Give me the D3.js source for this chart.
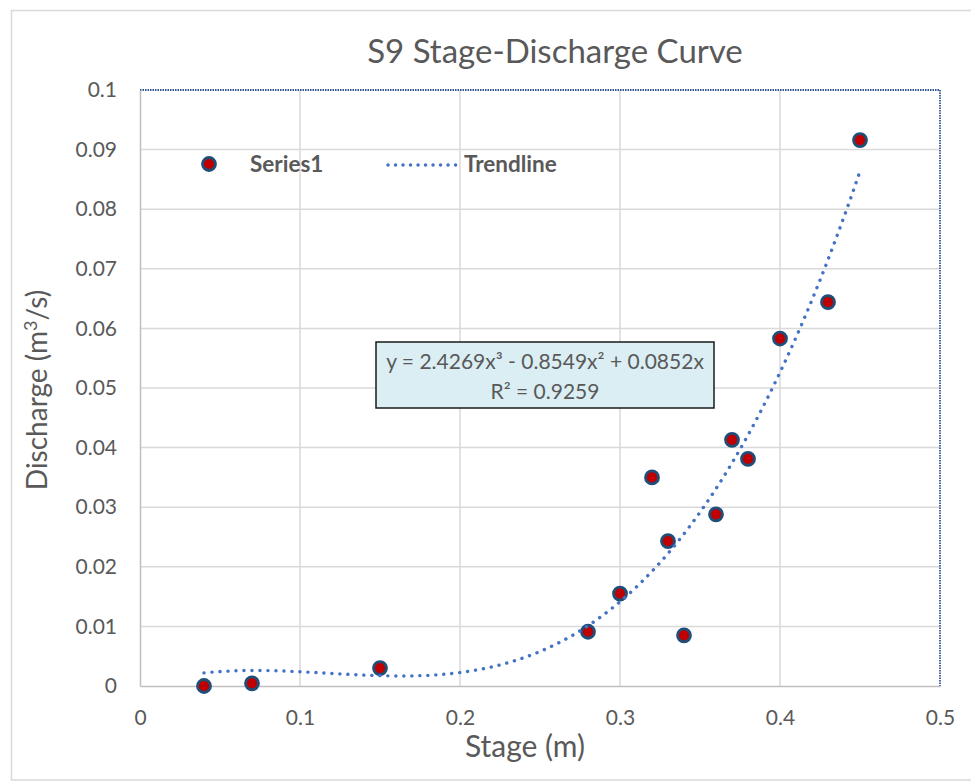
<!DOCTYPE html>
<html>
<head>
<meta charset="utf-8">
<script src="https://cdn.jsdelivr.net/npm/d3@7"></script>
<style>
  html, body { margin: 0; padding: 0; background: #fff; }
  svg { display: block; }
  text { font-family: "Lato", "Open Sans", sans-serif; fill: #595959; }
</style>
</head>
<body>
<svg id="chart" width="971" height="782"></svg>
<script>
// ---- data ----
const stage = [0.04, 0.07, 0.15, 0.28, 0.30, 0.32, 0.33, 0.34, 0.36, 0.37, 0.38, 0.40, 0.43, 0.45];
const discharge = [0.0000, 0.00045, 0.0030, 0.0091, 0.0155, 0.0350, 0.0243, 0.0085, 0.0288, 0.0413, 0.0381, 0.0583, 0.0644, 0.0916];
const trendCoefficients = [2.4269, -0.8549, 0.0852, 0]; // x^3, x^2, x, const (from chart label)
const xTicks = [0, 0.1, 0.2, 0.3, 0.4, 0.5];
const yTicks = [0, 0.01, 0.02, 0.03, 0.04, 0.05, 0.06, 0.07, 0.08, 0.09, 0.1];
const titleText = "S9 Stage-Discharge Curve";
const xTitle = "Stage (m)";
const equationLines = ["y = 2.4269x³ - 0.8549x² + 0.0852x", "R² = 0.9259"];
const legendLabels = ["Series1", "Trendline"];

// ---- layout ----
const svg = d3.select("#chart");
const plot = { left: 140, right: 940, top: 90, bottom: 686 };
const x = d3.scaleLinear().domain([0, 0.5]).range([plot.left, plot.right]);
const y = d3.scaleLinear().domain([0, 0.1]).range([plot.bottom, plot.top]);

const markerFill = "#C00000", markerStroke = "#1F4E79", trendColor = "#4472C4";

// outer chart border
svg.append("rect").attr("x", 11.5).attr("y", 10.5).attr("width", 970).attr("height", 769.5)
  .attr("fill", "#fff").attr("stroke", "#d9d9d9").attr("stroke-width", 1.5);

// title
svg.append("text").attr("x", 555).attr("y", 63).attr("text-anchor", "middle")
  .style("font-size", "33px").text(titleText);

// gridlines
const grid = svg.append("g");
grid.selectAll("line.h").data(yTicks.filter(d => d > 0 && d < 0.1)).join("line")
  .attr("x1", plot.left).attr("x2", plot.right)
  .attr("y1", d => y(d)).attr("y2", d => y(d))
  .attr("stroke", "#d9d9d9").attr("stroke-width", 1.5);
grid.selectAll("line.v").data(xTicks.filter(d => d > 0 && d < 0.5)).join("line")
  .attr("y1", plot.top).attr("y2", plot.bottom)
  .attr("x1", d => x(d)).attr("x2", d => x(d))
  .attr("stroke", "#d9d9d9").attr("stroke-width", 1.5);

// plot area borders: top and right dotted dark blue, left/bottom gray axes
svg.append("line").attr("x1", plot.left).attr("x2", plot.right).attr("y1", plot.top).attr("y2", plot.top)
  .attr("stroke", "#2F5597").attr("stroke-width", 1.8).attr("stroke-dasharray", "1.5 1");
svg.append("line").attr("x1", plot.right).attr("x2", plot.right).attr("y1", plot.top).attr("y2", plot.bottom)
  .attr("stroke", "#2F5597").attr("stroke-width", 1.8).attr("stroke-dasharray", "1.5 1");

// axes via d3
const xAxis = svg.append("g").attr("transform", `translate(0,${plot.bottom})`)
  .call(d3.axisBottom(x).tickValues(xTicks).tickSize(0).tickPadding(24).tickFormat(d => d3.format("~g")(d)));
const yAxis = svg.append("g").attr("transform", `translate(${plot.left},0)`)
  .call(d3.axisLeft(y).tickValues(yTicks).tickSize(0).tickPadding(23).tickFormat(d => d3.format("~g")(d)));
[xAxis, yAxis].forEach(a => {
  a.select(".domain").attr("stroke", "#bfbfbf").attr("stroke-width", 1.5);
  a.selectAll("text").style("font-size", "21px").style("font-family", "Lato, 'Open Sans', sans-serif").attr("fill", "#595959");
});
xAxis.selectAll("text").attr("dy", "0.71em").attr("y", 24);

// axis titles
svg.append("text").attr("x", 525).attr("y", 757).attr("text-anchor", "middle")
  .style("font-size", "30px").text(xTitle);
const yt = svg.append("text").attr("transform", "translate(47,390) rotate(-90)").attr("text-anchor", "middle")
  .style("font-size", "28px");
yt.append("tspan").text("Discharge (m");
yt.append("tspan").attr("dy", -10).style("font-size", "18px").text("3");
yt.append("tspan").attr("dy", 10).text("/s)");

// markers
svg.append("g").selectAll("circle").data(stage.map((s, i) => [s, discharge[i]])).join("circle")
  .attr("cx", d => x(d[0])).attr("cy", d => y(d[1])).attr("r", 6.5)
  .attr("fill", markerFill).attr("stroke", markerStroke).attr("stroke-width", 2.8);

// trendline from displayed polynomial
const poly = v => trendCoefficients.reduce((acc, c) => acc * v + c, 0);
const xMin = d3.min(stage), xMax = d3.max(stage);
const tx = d3.range(0, 201).map(i => xMin + (xMax - xMin) * i / 200);
svg.append("path").datum(tx)
  .attr("d", d3.line().x(d => x(d)).y(d => y(poly(d))))
  .attr("fill", "none").attr("stroke", trendColor).attr("stroke-width", 3.4)
  .attr("stroke-linecap", "round").attr("stroke-dasharray", "0.1 7.9");

// legend
const lg = svg.append("g");
lg.append("circle").attr("cx", 209).attr("cy", 164).attr("r", 6.5)
  .attr("fill", markerFill).attr("stroke", markerStroke).attr("stroke-width", 2.8);
lg.append("text").attr("x", 250).attr("y", 172).style("font-size", "22.5px").style("font-weight", "bold").text(legendLabels[0]);
lg.append("line").attr("x1", 388).attr("x2", 456).attr("y1", 165).attr("y2", 165)
  .attr("stroke", trendColor).attr("stroke-width", 3.4).attr("stroke-linecap", "round").attr("stroke-dasharray", "0.1 7.4");
lg.append("text").attr("x", 464).attr("y", 172).style("font-size", "22.5px").style("font-weight", "bold").text(legendLabels[1]);

// equation box
const eq = svg.append("g");
eq.append("rect").attr("x", 376).attr("y", 342).attr("width", 338).attr("height", 66)
  .attr("fill", "#DAEEF3").attr("stroke", "#1a1a1a").attr("stroke-width", 1.5);
eq.selectAll("text").data(equationLines).join("text")
  .attr("x", 545).attr("y", (d, i) => 369 + i * 30).attr("text-anchor", "middle")
  .style("font-size", "21px").text(d => d);
</script>
</body>
</html>
